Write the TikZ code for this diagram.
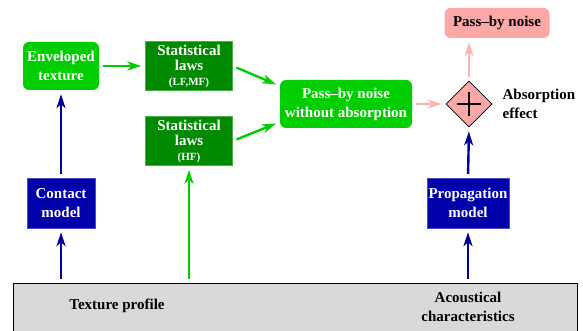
\documentclass[tikz,border=0pt]{standalone}
\usepackage{fontspec}
\setmainfont{Liberation Serif}
\usetikzlibrary{
    arrows.meta,
    calc,
    shapes.geometric,
    positioning
}
\definecolor{texgreen}{RGB}{0,206,0}
\definecolor{lawgreen}{RGB}{0,138,0}
\definecolor{modelblue}{RGB}{0,0,170}
\definecolor{arrowblue}{RGB}{0,0,150}
\definecolor{noisepink}{RGB}{255,168,168}
\definecolor{arrowpink}{RGB}{255,178,178}
\definecolor{ground}{RGB}{217,217,217}

\begin{document}
\begin{tikzpicture}[x=1pt, y=-1pt,
    every node/.style={font=\fontsize{15}{19}\selectfont\bfseries, align=center, inner sep=0pt},
    texbox/.style={fill=texgreen, text=white, rounded corners=6pt},
    lawbox/.style={fill=lawgreen, draw=lawgreen!70!white, text=white,
        minimum width=87pt, minimum height=49pt, font=\fontsize{15}{15}\selectfont\bfseries},
    modelbox/.style={fill=modelblue, draw=modelblue!70!white, text=white,
        minimum height=50pt},
    flow/.style={line width=2.4pt, -{Stealth[length=14pt, width=9pt, inset=4pt]},
        shorten <=4pt, shorten >=4pt}
]
    % Frame
    \useasboundingbox (0,0) rectangle (583,331);

    % Ground: inputs
    \node[fill=ground, draw=black, line width=0.6pt, minimum width=564pt,
        minimum height=52pt, anchor=north west] (base) at (13,283) {};
    \node (profile) at (117,306) {Texture profile};
    \node (acoustic) at (468,307) {Acoustical\\characteristics};

    % Models
    \node[modelbox, minimum width=68pt] (contact) at (61,203) {Contact\\model};
    \node[modelbox, minimum width=82pt] (prop) at (468,203) {Propagation\\model};

    % Texture and statistics
    \node[texbox, minimum width=76pt, minimum height=48pt] (env) at (61,66) {Enveloped\\texture};
    \node[lawbox] (lfmf) at (189,66) {Statistical\\laws\\{\fontsize{11}{13}\selectfont(LF,MF)}};
    \node[lawbox] (hf) at (189,141) {Statistical\\laws\\{\fontsize{11}{13}\selectfont(HF)}};

    % Noise
    \node[texbox, minimum width=132pt, minimum height=48pt] (pass) at (346,104) {Pass--by noise\\without absorption};
    \node[diamond, aspect=1, minimum size=46pt, fill=noisepink, draw=black, line width=0.8pt] (sum) at (469,104) {};
    \draw[line width=1.6pt] ($(sum.center)+(-12,0)$) -- ($(sum.center)+(12,0)$);
    \draw[line width=1.6pt] ($(sum.center)+(0,-12)$) -- ($(sum.center)+(0,12)$);
    \node[right=10pt of sum, align=left] (absorb) {Absorption\\effect};
    \node[fill=noisepink, rounded corners=6pt, minimum width=105pt, minimum height=30pt] (noise) at (497,23) {Pass--by noise};

    % Blue arrows
    \draw[flow, arrowblue] (contact.south |- base.north) -- (contact.south);
    \draw[flow, arrowblue] (contact.north) -- (env.south);
    \draw[flow, arrowblue] (prop.south |- base.north) -- (prop.south);
    \draw[flow, arrowblue] (prop.north) -- (sum.south);

    % Green arrows
    \draw[flow, texgreen] (hf.south |- base.north) -- (hf.south);
    \draw[flow, texgreen] (env.east) -- (lfmf.west);
    \draw[flow, texgreen] (lfmf.east) -- ([yshift=18pt]pass.west);
    \draw[flow, texgreen] (hf.east) -- ([yshift=-18pt]pass.west);

    % Pink arrows
    \draw[flow, arrowpink, line width=2pt] (pass.east) -- (sum.west);
    \draw[flow, arrowpink, line width=2pt] (sum.north) -- (sum.north |- noise.south);
\end{tikzpicture}
\end{document}
